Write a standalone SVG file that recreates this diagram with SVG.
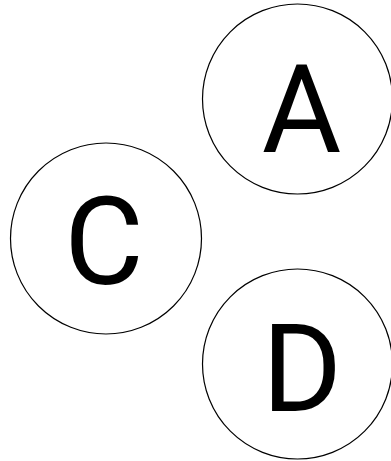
<svg xmlns="http://www.w3.org/2000/svg" width="391" height="461" viewBox="0 0 391 461">
<style>
.node circle{fill:#fff;stroke:#000;stroke-width:1.2}
.node text{font-family:Roboto,"Liberation Sans",sans-serif;font-size:122px;fill:#000;text-anchor:middle}
</style>
<rect width="391" height="461" fill="#fff"/>
<g id="connectors"></g>
<g id="node-A" class="node"><circle cx="297.5" cy="99" r="95"/><text x="301.5" y="152">A</text></g>
<g id="node-C" class="node"><circle cx="106" cy="238.5" r="95.5"/><text x="104" y="284">C</text></g>
<g id="node-D" class="node"><circle cx="297.5" cy="364" r="95"/><text x="302" y="410.5">D</text></g>
</svg>
